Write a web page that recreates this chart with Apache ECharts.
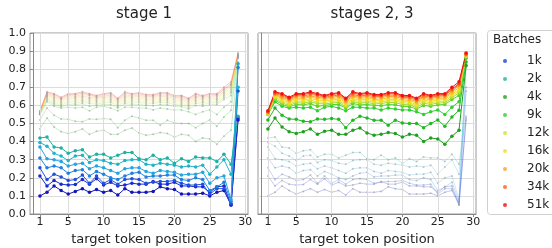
<!DOCTYPE html>
<html><head><meta charset="utf-8">
<script src="https://cdn.jsdelivr.net/npm/echarts@6/dist/echarts.min.js"></script>
<style>html,body{margin:0;padding:0;background:#fff}#c{width:552px;height:248px}</style>
</head><body><div id="c"></div>
<script>
const positions = [1,2,3,4,5,6,7,8,9,10,11,12,13,14,15,16,17,18,19,20,21,22,23,24,25,26,27,28,29];
const xTicks = [1,5,10,15,20,25,30];
const legendNames = ['1k','2k','4k','9k','12k','16k','20k','34k','51k'];
const legendColors = ['#1a3ee0','#20b0a0','#20a020','#30d030','#c8e830','#f0e020','#f8a030','#f86020','#f01010'];

// stage 1 checkpoints (blue -> teal)
const stage1Colors = ['#1414b8','#1a2ad0','#1e50e0','#2080e0','#22a4e0','#20b4c8','#1eb0a0'];
const stage1Values = [
 [0.10,0.12,0.155,0.13,0.11,0.125,0.14,0.12,0.135,0.12,0.13,0.105,0.14,0.12,0.12,0.12,0.125,0.15,0.14,0.135,0.11,0.11,0.11,0.115,0.10,0.12,0.13,0.05,0.52],
 [0.21,0.155,0.185,0.165,0.16,0.163,0.19,0.165,0.195,0.16,0.175,0.155,0.16,0.17,0.165,0.165,0.18,0.165,0.165,0.175,0.155,0.155,0.15,0.15,0.12,0.15,0.155,0.05,0.53],
 [0.255,0.19,0.22,0.205,0.185,0.19,0.215,0.17,0.21,0.17,0.19,0.165,0.19,0.195,0.19,0.17,0.175,0.18,0.18,0.185,0.17,0.16,0.16,0.165,0.11,0.14,0.14,0.06,0.68],
 [0.31,0.255,0.265,0.255,0.225,0.24,0.245,0.21,0.235,0.22,0.20,0.19,0.21,0.225,0.23,0.205,0.21,0.21,0.215,0.215,0.19,0.185,0.20,0.19,0.13,0.15,0.175,0.07,0.81],
 [0.37,0.305,0.30,0.29,0.265,0.275,0.28,0.25,0.265,0.255,0.24,0.225,0.25,0.255,0.255,0.235,0.225,0.24,0.235,0.23,0.215,0.22,0.22,0.23,0.17,0.20,0.21,0.08,0.83],
 [0.395,0.375,0.335,0.32,0.295,0.32,0.325,0.285,0.30,0.295,0.28,0.275,0.295,0.30,0.30,0.275,0.27,0.28,0.275,0.27,0.26,0.265,0.26,0.27,0.22,0.26,0.30,0.22,0.70],
 [0.42,0.425,0.37,0.365,0.335,0.35,0.355,0.315,0.33,0.33,0.31,0.325,0.34,0.34,0.305,0.30,0.325,0.30,0.31,0.28,0.305,0.29,0.315,0.31,0.31,0.29,0.33,0.275,0.54]
];

// stages 2, 3 checkpoints (green -> red)
const stage23Colors = ['#1ea01e','#22b822','#30d030','#60d030','#a0dc30','#d0e428','#f0e020','#f8c828','#f8a030','#f87828','#f84818','#f01010'];
const stage23Values = [
 [0.47,0.53,0.48,0.455,0.445,0.455,0.47,0.44,0.457,0.463,0.44,0.44,0.463,0.475,0.448,0.435,0.44,0.45,0.445,0.425,0.44,0.435,0.40,0.42,0.415,0.385,0.43,0.463,0.82],
 [0.52,0.585,0.545,0.525,0.523,0.512,0.51,0.525,0.523,0.527,0.523,0.477,0.518,0.54,0.53,0.518,0.518,0.49,0.518,0.503,0.50,0.50,0.477,0.50,0.52,0.485,0.536,0.573,0.84],
 [0.55,0.62,0.595,0.585,0.59,0.585,0.59,0.57,0.59,0.595,0.585,0.57,0.59,0.59,0.585,0.585,0.575,0.585,0.58,0.575,0.575,0.565,0.55,0.565,0.575,0.55,0.59,0.62,0.86],
 [0.551,0.63,0.605,0.592,0.605,0.603,0.61,0.595,0.60,0.605,0.605,0.585,0.61,0.603,0.605,0.60,0.598,0.605,0.603,0.595,0.593,0.58,0.60,0.595,0.603,0.605,0.632,0.655,0.865],
 [0.552,0.638,0.613,0.60,0.615,0.612,0.62,0.61,0.608,0.613,0.617,0.592,0.62,0.612,0.617,0.608,0.61,0.617,0.615,0.605,0.603,0.588,0.612,0.605,0.613,0.615,0.642,0.67,0.87],
 [0.553,0.645,0.622,0.607,0.624,0.622,0.628,0.62,0.617,0.622,0.626,0.60,0.628,0.622,0.626,0.617,0.619,0.626,0.624,0.614,0.612,0.597,0.622,0.614,0.622,0.624,0.652,0.68,0.87],
 [0.555,0.65,0.63,0.615,0.632,0.63,0.637,0.63,0.625,0.63,0.634,0.607,0.637,0.63,0.634,0.625,0.627,0.634,0.632,0.622,0.62,0.604,0.63,0.622,0.63,0.632,0.66,0.69,0.875],
 [0.558,0.655,0.638,0.622,0.64,0.638,0.645,0.638,0.633,0.638,0.642,0.615,0.645,0.638,0.642,0.632,0.635,0.642,0.64,0.63,0.628,0.612,0.638,0.63,0.638,0.64,0.668,0.70,0.875],
 [0.56,0.66,0.645,0.63,0.648,0.645,0.652,0.645,0.64,0.645,0.65,0.622,0.652,0.645,0.65,0.64,0.643,0.65,0.648,0.638,0.635,0.62,0.645,0.638,0.645,0.648,0.675,0.71,0.88],
 [0.563,0.665,0.653,0.635,0.655,0.652,0.66,0.655,0.645,0.652,0.657,0.63,0.66,0.652,0.657,0.648,0.65,0.657,0.656,0.645,0.643,0.628,0.652,0.645,0.652,0.655,0.685,0.715,0.88],
 [0.565,0.67,0.66,0.64,0.66,0.66,0.668,0.66,0.65,0.66,0.665,0.635,0.668,0.66,0.665,0.655,0.655,0.665,0.664,0.65,0.65,0.635,0.66,0.65,0.66,0.66,0.69,0.72,0.885],
 [0.57,0.675,0.665,0.645,0.665,0.665,0.675,0.665,0.655,0.665,0.67,0.64,0.675,0.665,0.67,0.66,0.66,0.67,0.67,0.655,0.655,0.64,0.665,0.655,0.665,0.665,0.70,0.73,0.89]
];

const FONT = 'DejaVu Sans';
const chart = echarts.init(document.getElementById('c'), null, {renderer:'canvas'});

function pts(vals){ return positions.map((p,i)=>[p, vals[i]]); }
function vivid(vals, color, gi){
  return {type:'line', xAxisIndex:gi, yAxisIndex:gi, data:pts(vals), z:5, silent:true, animation:false,
    symbol:'circle', symbolSize:3.5, showSymbol:true,
    lineStyle:{color:color, width:1}, itemStyle:{color:color}};
}
function faded(vals, color, gi){
  return {type:'line', xAxisIndex:gi, yAxisIndex:gi, data:pts(vals), z:2, silent:true, animation:false,
    symbol:'circle', symbolSize:2, showSymbol:true,
    lineStyle:{color:color, width:0.8, opacity:0.3}, itemStyle:{color:'#999', opacity:0.55}};
}
const series = [];
[0,1].forEach(gi=>{
  series.push({type:'line', xAxisIndex:gi, yAxisIndex:gi, data:[], silent:true, z:1,
    markLine:{silent:true, symbol:'none', label:{show:false}, animation:false,
      lineStyle:{color:'#dcdcdc', type:'solid', width:1},
      data:xTicks.map(v=>({xAxis:v}))}});
});
stage1Values.forEach((v,i)=>{ series.push(vivid(v, stage1Colors[i], 0)); series.push(faded(v, stage1Colors[i], 1)); });
stage23Values.forEach((v,i)=>{ series.push(vivid(v, stage23Colors[i], 1)); series.push(faded(v, stage23Colors[i], 0)); });
legendNames.forEach((n,i)=>{ series.push({type:'scatter', name:n, data:[], itemStyle:{color:legendColors[i]}, xAxisIndex:0, yAxisIndex:0}); });

function xAxis(gi){
  return {gridIndex:gi, type:'value', min:-0.4, max:30.4,
    axisLine:{show:true, lineStyle:{color:'#888'}},
    axisTick:{show:true, customValues:xTicks, length:3, lineStyle:{color:'#888'}},
    axisLabel:{customValues:xTicks, fontSize:11, color:'#222', fontFamily:FONT, margin:3},
    splitLine:{show:false},
    name:'target token position', nameLocation:'middle', nameGap:15,
    nameTextStyle:{fontSize:13, color:'#222', fontFamily:FONT}};
}
function yAxis(gi){
  return {gridIndex:gi, type:'value', min:0, max:1, interval:0.1,
    axisLine:{show:true, lineStyle:{color:'#888'}},
    axisTick:{show:gi===0, length:3, lineStyle:{color:'#888'}},
    axisLabel:{show:gi===0, fontSize:11, color:'#222', fontFamily:FONT, margin:4, formatter:v=>v.toFixed(1)},
    splitLine:{show:true, lineStyle:{color:'#dcdcdc', width:1}}};
}

chart.setOption({
  animation:false,
  textStyle:{fontFamily:FONT},
  title:[
    {text:'stage 1', left:139, top:2, textAlign:'center', textStyle:{fontSize:15, fontWeight:'normal', color:'#222', fontFamily:FONT}},
    {text:'stages 2, 3', left:367, top:2, textAlign:'center', textStyle:{fontSize:15, fontWeight:'normal', color:'#222', fontFamily:FONT}}
  ],
  grid:[
    {left:30, top:33, width:218, height:181, show:true, borderColor:'#999', borderWidth:1, backgroundColor:'transparent', outerBoundsMode:'none', containLabel:false},
    {left:258, top:33, width:218, height:181, show:true, borderColor:'#999', borderWidth:1, backgroundColor:'transparent', outerBoundsMode:'none', containLabel:false}
  ],
  xAxis:[xAxis(0), xAxis(1)],
  yAxis:[yAxis(0), yAxis(1)],
  legend:{orient:'vertical', left:503, top:54, padding:0, itemWidth:8, itemHeight:4, itemGap:4, icon:'circle',
    selectedMode:false, data:legendNames,
    textStyle:{fontSize:12, color:'#222', fontFamily:FONT, lineHeight:14, padding:[0,0,0,13]}},
  graphic:[
    {type:'rect', left:487, top:30, z:-1, shape:{width:72, height:184, r:3}, style:{fill:'#fff', stroke:'#d0d0d0', lineWidth:1}},
    {type:'text', left:493, top:34, style:{text:'Batches', fontSize:12, fill:'#222', fontFamily:FONT}}
  ],
  series:series
});
</script></body></html>
